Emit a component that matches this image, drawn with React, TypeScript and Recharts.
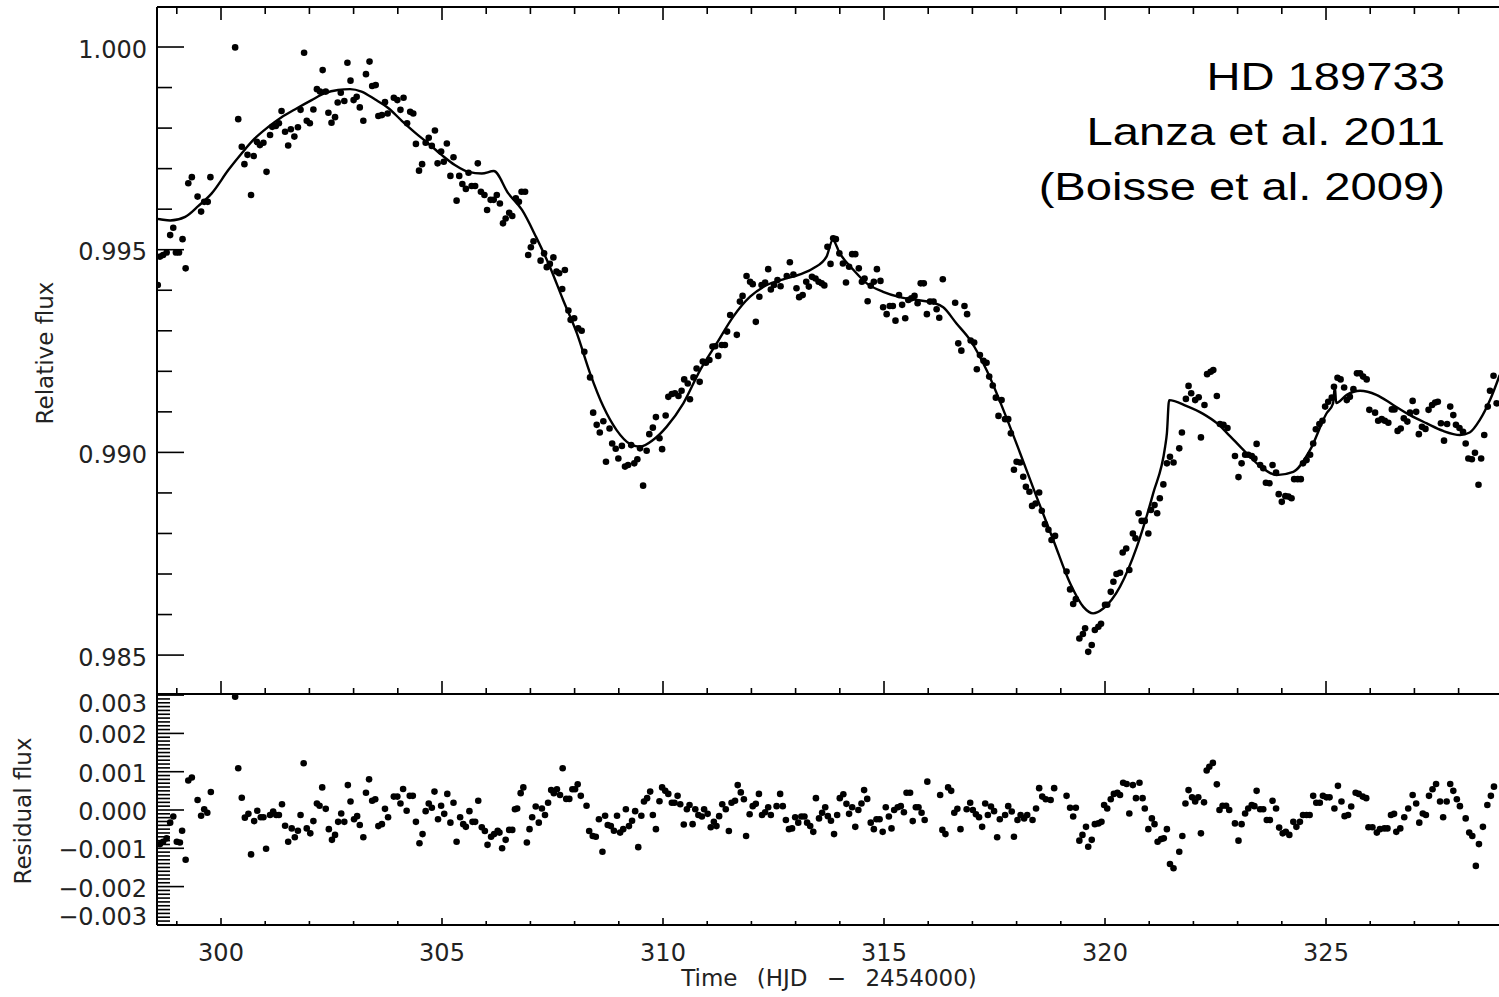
import React from "react";
import { ComposedChart, Scatter, Line, XAxis, YAxis } from "recharts";

// observed relative flux (MOST photometry), time in HJD - 2454000
const obsTime = [
  298.57, 298.62, 298.69, 298.77, 298.85, 298.92, 298.98, 299.05, 299.13, 299.20,
  299.26, 299.34, 299.47, 299.55, 299.62, 299.70, 299.76, 300.32, 300.39, 300.47,
  300.53, 300.60, 300.68, 300.74, 300.81, 300.88, 300.96, 301.03, 301.11, 301.16,
  301.24, 301.31, 301.37, 301.45, 301.52, 301.58, 301.66, 301.74, 301.80, 301.88,
  301.94, 302.01, 302.09, 302.17, 302.24, 302.30, 302.37, 302.43, 302.50, 302.58,
  302.64, 302.71, 302.79, 302.86, 302.93, 303.00, 303.07, 303.14, 303.22, 303.28,
  303.36, 303.42, 303.50, 303.56, 303.64, 303.71, 303.77, 303.91, 303.99, 304.06,
  304.13, 304.21, 304.28, 304.35, 304.41, 304.48, 304.55, 304.63, 304.70, 304.77,
  304.84, 304.90, 304.98, 305.04, 305.11, 305.19, 305.26, 305.33, 305.39, 305.46,
  305.54, 305.60, 305.67, 305.75, 305.81, 305.88, 305.96, 306.02, 306.10, 306.17,
  306.24, 306.31, 306.38, 306.44, 306.52, 306.59, 306.67, 306.74, 306.80, 306.88,
  306.95, 307.01, 307.07, 307.23, 307.31, 307.37, 307.44, 307.52, 307.59, 307.65,
  307.72, 307.78, 307.86, 307.91, 307.99, 308.08, 308.16, 308.22, 308.35, 308.42,
  308.50, 308.57, 308.65, 308.71, 308.79, 308.85, 308.93, 308.99, 309.07, 309.14,
  309.21, 309.28, 309.35, 309.42, 309.48, 309.55, 309.63, 309.69, 309.77, 309.84,
  309.92, 309.98, 310.06, 310.12, 310.20, 310.27, 310.35, 310.42, 310.48, 310.56,
  310.61, 310.69, 310.76, 310.83, 310.90, 310.97, 311.05, 311.12, 311.18, 311.25,
  311.33, 311.40, 311.45, 311.52, 311.67, 311.74, 311.80, 311.89, 311.97, 312.03,
  312.10, 312.18, 312.23, 312.31, 312.38, 312.44, 312.51, 312.59, 312.66, 312.80,
  312.87, 312.95, 313.02, 313.08, 313.16, 313.24, 313.30, 313.37, 313.45, 313.52,
  313.59, 313.65, 313.72, 313.79, 313.85, 313.91, 313.99, 314.07, 314.14, 314.21,
  314.28, 314.35, 314.43, 314.50, 314.56, 314.63, 314.70, 314.77, 314.84, 314.92,
  314.98, 315.06, 315.13, 315.20, 315.26, 315.34, 315.41, 315.48, 315.55, 315.62,
  315.69, 315.76, 315.83, 315.90, 315.97, 316.04, 316.12, 316.19, 316.25, 316.33,
  316.61, 316.68, 316.75, 316.82, 316.88, 316.96, 317.04, 317.10, 317.17, 317.25,
  317.32, 317.38, 317.46, 317.53, 317.59, 317.66, 317.74, 317.81, 317.87, 317.94,
  318.00, 318.08, 318.15, 318.21, 318.29, 318.35, 318.43, 318.51, 318.57, 318.64,
  318.72, 318.79, 318.87, 319.13, 319.21, 319.28, 319.34, 319.42, 319.50, 319.55,
  319.62, 319.70, 319.77, 319.85, 319.91, 320.00, 320.05, 320.13, 320.19, 320.26,
  320.34, 320.40, 320.48, 320.55, 320.63, 320.69, 320.76, 320.83, 320.90, 320.98,
  321.04, 321.12, 321.18, 321.24, 321.32, 321.40, 321.47, 321.55, 321.68, 321.74,
  321.83, 321.89, 321.95, 322.04, 322.12, 322.17, 322.25, 322.31, 322.39, 322.45,
  322.53, 322.60, 322.68, 322.77, 322.94, 323.02, 323.09, 323.17, 323.24, 323.32,
  323.38, 323.43, 323.51, 323.58, 323.64, 323.72, 323.79, 323.87, 323.93, 324.00,
  324.08, 324.15, 324.22, 324.28, 324.36, 324.43, 324.48, 324.56, 324.64, 324.71,
  324.77, 324.85, 324.92, 324.98, 325.05, 325.13, 325.18, 325.26, 325.33, 325.41,
  325.47, 325.54, 325.62, 325.70, 325.77, 325.84, 325.92, 325.98, 326.11, 326.18,
  326.26, 326.33, 326.41, 326.49, 326.55, 326.62, 326.69, 326.76, 326.84, 326.90,
  326.96, 327.04, 327.10, 327.17, 327.25, 327.32, 327.40, 327.47, 327.53, 327.60,
  327.67, 327.74, 327.81, 327.88, 327.94, 328.02, 328.10, 328.16, 328.22, 328.30,
  328.37, 328.45, 328.51, 328.58, 328.66, 328.71, 328.79, 328.86,
];

const obsFlux = [
  0.99413, 0.99483, 0.99487, 0.99493, 0.99536, 0.99554, 0.99493, 0.99493, 0.99526, 0.99454,
  0.99664, 0.99679, 0.99631, 0.99594, 0.99618, 0.99618, 0.99679, 0.99999, 0.99822, 0.99754,
  0.99711, 0.99734, 0.99635, 0.99731, 0.99766, 0.99758, 0.99764, 0.99692, 0.99783, 0.99803,
  0.99805, 0.99812, 0.99842, 0.99791, 0.99757, 0.99797, 0.99779, 0.99802, 0.99845, 0.99986,
  0.99818, 0.99812, 0.99846, 0.99896, 0.99890, 0.99943, 0.99890, 0.99838, 0.99813, 0.99827,
  0.99863, 0.99887, 0.99867, 0.99961, 0.99917, 0.99869, 0.99877, 0.99851, 0.99818, 0.99933,
  0.99964, 0.99904, 0.99906, 0.99830, 0.99832, 0.99864, 0.99836, 0.99875, 0.99869, 0.99845,
  0.99875, 0.99812, 0.99840, 0.99836, 0.99761, 0.99695, 0.99711, 0.99764, 0.99776, 0.99756,
  0.99794, 0.99713, 0.99742, 0.99717, 0.99762, 0.99682, 0.99728, 0.99621, 0.99682, 0.99662,
  0.99650, 0.99690, 0.99657, 0.99657, 0.99713, 0.99643, 0.99635, 0.99598, 0.99623, 0.99623,
  0.99635, 0.99614, 0.99565, 0.99577, 0.99591, 0.99583, 0.99627, 0.99618, 0.99643, 0.99643,
  0.99487, 0.99506, 0.99521, 0.99473, 0.99491, 0.99457, 0.99465, 0.99481, 0.99446, 0.99442,
  0.99403, 0.99450, 0.99350, 0.99327, 0.99331, 0.99306, 0.99300, 0.99248, 0.99185, 0.99098,
  0.99068, 0.99049, 0.99077, 0.98977, 0.99059, 0.99022, 0.99009, 0.98985, 0.99016, 0.98965,
  0.98969, 0.99018, 0.98973, 0.98983, 0.99010, 0.98918, 0.99004, 0.99045, 0.99061, 0.99087,
  0.99035, 0.99008, 0.99091, 0.99137, 0.99144, 0.99146, 0.99139, 0.99152, 0.99180, 0.99170,
  0.99131, 0.99185, 0.99207, 0.99174, 0.99224, 0.99221, 0.99228, 0.99261, 0.99262, 0.99238,
  0.99265, 0.99265, 0.99298, 0.99339, 0.99290, 0.99372, 0.99386, 0.99435, 0.99421, 0.99415,
  0.99322, 0.99384, 0.99413, 0.99419, 0.99452, 0.99402, 0.99413, 0.99425, 0.99410, 0.99435,
  0.99469, 0.99439, 0.99405, 0.99383, 0.99388, 0.99421, 0.99409, 0.99433, 0.99429, 0.99421,
  0.99417, 0.99412, 0.99507, 0.99465, 0.99528, 0.99526, 0.99491, 0.99466, 0.99419, 0.99458,
  0.99489, 0.99489, 0.99454, 0.99421, 0.99429, 0.99373, 0.99411, 0.99421, 0.99452, 0.99423,
  0.99358, 0.99341, 0.99361, 0.99361, 0.99325, 0.99388, 0.99364, 0.99331, 0.99376, 0.99380,
  0.99386, 0.99368, 0.99417, 0.99417, 0.99341, 0.99372, 0.99372, 0.99353, 0.99332, 0.99427,
  0.99369, 0.99269, 0.99251, 0.99361, 0.99341, 0.99276, 0.99271, 0.99205, 0.99240, 0.99226,
  0.99221, 0.99187, 0.99165, 0.99135, 0.99090, 0.99129, 0.99082, 0.99082, 0.99047, 0.98957,
  0.98977, 0.98975, 0.98940, 0.98915, 0.98903, 0.98868, 0.98874, 0.98901, 0.98856, 0.98823,
  0.98809, 0.98784, 0.98794, 0.98706, 0.98662, 0.98626, 0.98638, 0.98541, 0.98552, 0.98566,
  0.98508, 0.98525, 0.98562, 0.98570, 0.98577, 0.98624, 0.98624, 0.98656, 0.98681, 0.98700,
  0.98703, 0.98753, 0.98763, 0.98710, 0.98800, 0.98788, 0.98850, 0.98831, 0.98831, 0.98800,
  0.98858, 0.98870, 0.98850, 0.98887, 0.98921, 0.98973, 0.98989, 0.98975, 0.99010, 0.99049,
  0.99132, 0.99164, 0.99146, 0.99129, 0.99136, 0.99037, 0.99117, 0.99193, 0.99199, 0.99203,
  0.99139, 0.99070, 0.99068, 0.99060, 0.98991, 0.98939, 0.98973, 0.98994, 0.98994, 0.98991,
  0.98985, 0.99021, 0.98969, 0.98961, 0.98925, 0.98924, 0.98969, 0.98950, 0.98897, 0.98878,
  0.98892, 0.98891, 0.98887, 0.98934, 0.98934, 0.98934, 0.98973, 0.98981, 0.98994, 0.99022,
  0.99057, 0.99070, 0.99078, 0.99113, 0.99125, 0.99135, 0.99162, 0.99184, 0.99180, 0.99160,
  0.99129, 0.99137, 0.99156, 0.99195, 0.99195, 0.99187, 0.99180, 0.99105, 0.99098, 0.99078,
  0.99082, 0.99078, 0.99073, 0.99106, 0.99106, 0.99053, 0.99059, 0.99084, 0.99076, 0.99098,
  0.99127, 0.99100, 0.99045, 0.99063, 0.99058, 0.99105, 0.99117, 0.99123, 0.99125, 0.99072,
  0.99029, 0.99070, 0.99113, 0.99092, 0.99068, 0.99060, 0.99051, 0.99022, 0.98985, 0.98983,
  0.98999, 0.98920, 0.98985, 0.99043, 0.99113, 0.99152, 0.99189, 0.99121,
];

// spot model (time, flux)
const modelCurve: [number, number][] = [
  [298.55, 0.99576], [298.62, 0.99575], [298.85, 0.99572], [299.19, 0.99581], [299.49, 0.99608],
  [299.79, 0.99639], [300.17, 0.99697], [300.47, 0.99738], [300.77, 0.99775], [301.07, 0.99803],
  [301.37, 0.99827], [301.67, 0.99846], [302.05, 0.99869], [302.35, 0.99886], [302.65, 0.99894],
  [302.92, 0.99896], [303.18, 0.9989], [303.48, 0.99871], [303.79, 0.99849], [304.09, 0.99818],
  [304.39, 0.99789], [304.69, 0.99762], [304.99, 0.99734], [305.29, 0.99709], [305.6, 0.99692],
  [305.9, 0.99688], [306.17, 0.99694], [306.5, 0.99639], [306.81, 0.99598], [307.13, 0.99531],
  [307.44, 0.99458], [307.74, 0.99376], [308.05, 0.99294], [308.35, 0.99195], [308.65, 0.99113],
  [308.95, 0.99055], [309.25, 0.99021], [309.48, 0.99014], [309.78, 0.99031], [310.08, 0.99063],
  [310.46, 0.99121], [310.84, 0.99203], [311.22, 0.9927], [311.59, 0.99335], [311.97, 0.99384],
  [312.35, 0.99413], [312.72, 0.99427], [313.1, 0.99439], [313.4, 0.99454], [313.7, 0.99483],
  [313.84, 0.99524], [314.0, 0.99491], [314.31, 0.9945], [314.61, 0.99417], [314.98, 0.99396],
  [315.36, 0.99383], [315.74, 0.99376], [316.12, 0.99369], [316.34, 0.99358], [316.64, 0.99318],
  [316.95, 0.99277], [317.32, 0.99203], [317.7, 0.99105], [318.08, 0.98998], [318.45, 0.98891],
  [318.83, 0.98784], [319.21, 0.98677], [319.51, 0.98619], [319.73, 0.98603], [319.96, 0.98615],
  [320.34, 0.98669], [320.72, 0.98767], [321.09, 0.98899], [321.36, 0.99014], [321.4, 0.99047],
  [321.45, 0.99129], [321.85, 0.99114], [322.22, 0.99095], [322.53, 0.99072], [322.75, 0.99049],
  [323.13, 0.99006], [323.51, 0.98966], [323.88, 0.98944], [324.26, 0.98952], [324.64, 0.99006],
  [325.01, 0.99096], [325.16, 0.99121], [325.2, 0.99162], [325.23, 0.99122], [325.47, 0.99142],
  [325.77, 0.99152], [326.14, 0.99142], [326.52, 0.99117], [326.9, 0.99092], [327.27, 0.99072],
  [327.65, 0.99053], [328.03, 0.99043], [328.25, 0.99049], [328.48, 0.9908], [328.71, 0.99129],
  [328.93, 0.99191],
];

// residual flux (time, observed - model)
const residuals: [number, number][] = [
  [298.62, -0.00089], [298.69, -0.00083], [298.77, -0.00074], [298.85, -0.00033], [298.92, -0.00017],
  [299.0, -0.00083], [299.07, -0.00085], [299.12, -0.00054], [299.2, -0.0013], [299.26, 0.00077],
  [299.34, 0.00085], [299.47, 0.00026], [299.55, -0.00015], [299.62, 0.00002], [299.69, -0.00007],
  [299.77, 0.00047], [300.32, 0.00296], [300.39, 0.00109], [300.47, 0.00032], [300.54, -0.0002],
  [300.62, -0.0001], [300.68, -0.00116], [300.75, -0.00029], [300.82, -0.00002], [300.9, -0.00019],
  [300.96, -0.00019], [301.02, -0.00101], [301.11, -0.00013], [301.18, -0.00004], [301.25, -0.00013],
  [301.31, -0.00013], [301.38, 0.00015], [301.45, -0.00041], [301.52, -0.00083], [301.6, -0.00048],
  [301.67, -0.00071], [301.74, -0.00054], [301.8, -0.00013], [301.87, 0.00122], [301.94, -0.00048],
  [302.02, -0.00061], [302.09, -0.00029], [302.17, 0.00017], [302.23, 0.00011], [302.29, 0.00059],
  [302.37, 0.00003], [302.44, -0.0005], [302.51, -0.00078], [302.58, -0.00065], [302.65, -0.00031],
  [302.72, -0.00009], [302.79, -0.00031], [302.87, 0.00065], [302.93, 0.00022], [303.01, -0.00024],
  [303.08, -0.00016], [303.14, -0.00039], [303.22, -0.00071], [303.28, 0.00045], [303.35, 0.0008],
  [303.42, 0.00024], [303.49, 0.00028], [303.56, -0.00042], [303.64, -0.00037], [303.71, 0.00003],
  [303.78, -0.00019], [303.91, 0.00035], [303.99, 0.00035], [304.06, 0.00017], [304.12, 0.00055],
  [304.2, -0.00002], [304.27, 0.00037], [304.34, 0.00037], [304.41, -0.00031], [304.49, -0.00087],
  [304.56, -0.00063], [304.63, -0.00003], [304.7, 0.00017], [304.77, 0.00006], [304.83, 0.00048],
  [304.91, -0.00024], [304.98, 0.00011], [305.05, -0.0001], [305.12, 0.00042], [305.19, -0.00033],
  [305.26, 0.00019], [305.33, -0.00083], [305.41, -0.00019], [305.48, -0.00037], [305.54, -0.00044],
  [305.62, -0.00003], [305.69, -0.00031], [305.75, -0.00031], [305.82, 0.00024], [305.9, -0.00045],
  [305.97, -0.00055], [306.03, -0.00091], [306.11, -0.0007], [306.18, -0.00063], [306.26, -0.00054],
  [306.3, -0.00059], [306.36, -0.001], [306.44, -0.00078], [306.52, -0.00052], [306.59, -0.00052],
  [306.65, 0.00002], [306.7, 0.00004], [306.78, 0.00044], [306.84, 0.00059], [306.92, -0.00085],
  [306.98, -0.0005], [307.04, -0.00019], [307.12, 0.00009], [307.19, -0.00033], [307.26, 0.00004],
  [307.33, -0.00013], [307.4, 0.00019], [307.47, 0.00052], [307.53, 0.00044], [307.6, 0.00054],
  [307.67, 0.00039], [307.73, 0.00109], [307.81, 0.00029], [307.88, 0.00029], [307.95, 0.00054],
  [308.01, 0.00054], [308.07, 0.00067], [308.14, 0.00037], [308.27, 0.00011], [308.33, -0.00055],
  [308.41, -0.00068], [308.48, -0.0007], [308.55, -0.00024], [308.63, -0.00109], [308.69, -0.00015],
  [308.75, -0.00039], [308.82, -0.00042], [308.89, -0.00054], [308.96, -0.00015], [309.03, -0.00059],
  [309.1, -0.0005], [309.16, 0.00002], [309.23, -0.00042], [309.3, -0.00028], [309.37, -0.00003],
  [309.44, -0.00097], [309.51, -0.00015], [309.57, 0.00022], [309.64, 0.00031], [309.71, 0.00048],
  [309.77, -0.00013], [309.84, -0.0005], [309.92, 0.00023], [309.98, 0.00059], [310.05, 0.0005],
  [310.12, 0.00042], [310.2, 0.00019], [310.26, 0.00019], [310.33, 0.00037], [310.39, 0.00015],
  [310.47, -0.00038], [310.54, 0.00002], [310.6, 0.00013], [310.67, -0.00037], [310.73, 0.00002],
  [310.8, -0.00013], [310.88, -0.00017], [310.93, 0.00002], [311.01, -0.0001], [311.08, -0.00045],
  [311.15, -0.00031], [311.21, -0.00042], [311.27, -0.00016], [311.34, 0.00015], [311.42, 0.00002],
  [311.49, -0.00055], [311.55, 0.00019], [311.63, 0.00024], [311.69, 0.00065], [311.76, 0.00046],
  [311.83, 0.00028], [311.88, -0.00068], [311.96, -0.00011], [312.03, 0.0001], [312.1, 0.00016],
  [312.17, 0.00042], [312.24, -0.00013], [312.31, -0.00006], [312.38, 0.00007], [312.44, -0.00013],
  [312.57, 0.0001], [312.65, 0.00042], [312.71, 0.0001], [312.78, -0.00026], [312.85, -0.0005],
  [312.92, -0.00048], [312.99, -0.00019], [313.06, -0.00033], [313.13, -0.00017], [313.2, -0.00017],
  [313.26, -0.00033], [313.33, -0.00042], [313.4, -0.00057], [313.46, 0.00031], [313.53, -0.00022],
  [313.6, -0.00007], [313.67, 0.00007], [313.73, -0.00016], [313.8, -0.00028], [313.87, -0.00063],
  [313.94, -0.00013], [314.0, 0.00031], [314.08, 0.00041], [314.15, 0.00016], [314.21, -0.0001],
  [314.28, 0.00007], [314.35, -0.00044], [314.42, 0.0], [314.49, 0.00017], [314.55, 0.00052],
  [314.62, 0.00029], [314.7, -0.00033], [314.77, -0.0005], [314.83, -0.00024], [314.9, -0.00024],
  [314.97, -0.00057], [315.04, 0.00007], [315.11, -0.00017], [315.17, -0.00048], [315.23, 0.0],
  [315.31, 0.00007], [315.38, 0.0001], [315.45, -0.00006], [315.51, 0.00045], [315.59, 0.00045],
  [315.65, -0.00029], [315.72, 0.00007], [315.78, 0.00007], [315.85, -0.00007], [315.92, -0.00026],
  [315.98, 0.00074], [316.27, 0.00039], [316.32, -0.00052], [316.39, -0.00063], [316.45, 0.00059],
  [316.52, 0.0005], [316.59, -0.00007], [316.66, 0.00003], [316.73, -0.0005], [316.87, 0.00002],
  [316.95, 0.00019], [317.01, 0.0], [317.08, -0.00011], [317.15, -0.00019], [317.22, -0.00044],
  [317.29, 0.00017], [317.35, -0.00013], [317.42, 0.00009], [317.49, -0.00003], [317.56, -0.00071],
  [317.62, -0.00024], [317.74, -0.00013], [317.81, 0.0001], [317.89, -0.00004], [317.94, -0.0007],
  [318.02, -0.00026], [318.09, -0.00013], [318.17, -0.00022], [318.24, -0.00013], [318.36, -0.00026],
  [318.44, 0.00004], [318.51, 0.00057], [318.58, 0.00035], [318.66, 0.00028], [318.77, 0.00026],
  [318.85, 0.00057], [319.13, 0.00037], [319.21, 0.00006], [319.28, -0.00017], [319.34, 0.00006],
  [319.42, -0.0008], [319.49, -0.00065], [319.57, -0.00044], [319.62, -0.00096], [319.7, -0.00078],
  [319.77, -0.00037], [319.85, -0.00035], [319.92, -0.00031], [319.98, 0.00013], [320.05, 0.00004],
  [320.13, 0.00028], [320.2, 0.00042], [320.28, 0.00045], [320.34, 0.00039], [320.41, 0.00071],
  [320.49, 0.00068], [320.55, -0.00009], [320.63, 0.00065], [320.7, 0.00031], [320.78, 0.00071],
  [320.85, 0.00031], [320.9, 0.00004], [320.98, -0.0005], [321.06, -0.00022], [321.12, -0.00037],
  [321.19, -0.00083], [321.27, -0.00076], [321.33, -0.00074], [321.4, -0.0005], [321.47, -0.00141],
  [321.55, -0.00152], [321.68, -0.00109], [321.75, -0.00068], [321.82, 0.00017], [321.89, 0.00052],
  [321.97, 0.00033], [322.04, 0.00022], [322.11, 0.00033], [322.17, -0.00061], [322.24, 0.0002],
  [322.3, 0.00103], [322.36, 0.00113], [322.44, 0.00123], [322.53, 0.00067], [322.59, 0.0],
  [322.66, 0.00011], [322.74, 0.00011], [322.81, 0.0], [322.94, -0.00035], [323.02, -0.0008],
  [323.09, -0.00037], [323.17, -0.00009], [323.24, 0.00004], [323.32, 0.00013], [323.38, 0.0001],
  [323.43, 0.0005], [323.51, 0.00002], [323.58, 0.00002], [323.66, -0.00026], [323.73, -0.00026],
  [323.79, 0.00024], [323.87, 0.00004], [323.94, -0.00046], [324.02, -0.00061], [324.09, -0.00057],
  [324.17, -0.00065], [324.26, -0.00031], [324.33, -0.00044], [324.41, -0.00031], [324.48, -0.00013],
  [324.56, -0.00013], [324.63, -0.00013], [324.71, 0.00037], [324.78, 0.00019], [324.86, 0.00019],
  [324.93, 0.00037], [325.01, 0.00033], [325.08, 0.00033], [325.19, 0.00004], [325.27, 0.00063],
  [325.35, 0.00022], [325.42, -0.00016], [325.5, -0.00013], [325.57, 0.00009], [325.67, 0.00045],
  [325.74, 0.00042], [325.83, 0.00035], [325.91, 0.00031], [325.96, -0.00045], [326.05, -0.00045],
  [326.15, -0.00059], [326.22, -0.0005], [326.32, -0.00048], [326.39, -0.00048], [326.47, -0.00013],
  [326.54, -0.0001], [326.59, -0.00057], [326.68, -0.00048], [326.77, -0.00019], [326.86, 0.00004],
  [326.96, 0.00039], [327.04, 0.00017], [327.11, -0.00033], [327.19, -0.00009], [327.26, -0.00013],
  [327.33, 0.00037], [327.41, 0.00054], [327.49, 0.00068], [327.58, 0.00022], [327.65, -0.00019],
  [327.73, 0.00022], [327.81, 0.00068], [327.88, 0.0005], [327.96, 0.00028], [328.03, 0.0001],
  [328.16, -0.00022], [328.24, -0.00059], [328.31, -0.00068], [328.39, -0.00146], [328.46, -0.00089],
  [328.55, -0.00044], [328.65, 0.00013], [328.73, 0.00037], [328.8, 0.00061],
];

// axis ticks
const timeTicks = [
  299, 300, 301, 302, 303, 304, 305, 306, 307, 308, 309, 310, 311, 312, 313,
  314, 315, 316, 317, 318, 319, 320, 321, 322, 323, 324, 325, 326, 327, 328,
];
const fluxTicks = [
  0.985, 0.986, 0.987, 0.988, 0.989, 0.99, 0.991, 0.992,
  0.993, 0.994, 0.995, 0.996, 0.997, 0.998, 0.999, 1.0,
];
// dense minor ticks every 0.0001, labelled every 0.001
const residTicks = Array.from({ length: 61 }, (_, i) => (i - 30) / 10000);

const W = 1502;
const H = 997;
const LEFT = 157;
const TOP_PANEL = [7, 694];
const BOTTOM_PANEL = [694, 925];
const TIME_DOMAIN: [number, number] = [298.552, 328.959];
const FLUX_DOMAIN: [number, number] = [0.98404, 1.000987];
const RESID_DOMAIN: [number, number] = [-0.003003, 0.003029];

const tickFont = { fontFamily: "DejaVu Sans", fontSize: 24, fill: "#222" };

const obsData = obsTime.map((t, i) => ({ t, f: obsFlux[i] }));
const modelData = modelCurve.map(([t, f]) => ({ t, f }));
const residData = residuals.map(([t, r]) => ({ t, r }));

type Dir = "up" | "down" | "left" | "right";

const isMultiple = (v: number, step: number) =>
  Math.abs(v / step - Math.round(v / step)) < 1e-6;

function makeTick(
  dir: Dir,
  majorStep: number,
  majorLen: number,
  minorLen: number,
  label?: (v: number, x: number, y: number) => React.ReactNode
) {
  return (p: any) => {
    const { x, y, payload } = p;
    const v = payload.value as number;
    const major = isMultiple(v, majorStep);
    const len = major ? majorLen : minorLen;
    const dx = dir === "left" ? -len : dir === "right" ? len : 0;
    const dy = dir === "up" ? -len : dir === "down" ? len : 0;
    return (
      <g>
        <line x1={x} y1={y} x2={x + dx} y2={y + dy} stroke="#000" strokeWidth={1.6} />
        {major && label ? label(v, x, y) : null}
      </g>
    );
  };
}

const fluxLabel = (v: number, x: number, y: number) => (
  <text x={x - 10} y={y + 10.5} textAnchor="end" style={tickFont}>
    {v.toFixed(3)}
  </text>
);

const residLabel = (v: number, x: number, y: number) => {
  const s = Math.abs(v) < 1e-9 ? "0.000" : v < 0 ? "\u2212" + Math.abs(v).toFixed(3) : v.toFixed(3);
  const by = Math.min(Math.max(y + 10, BOTTOM_PANEL[0] + 18), BOTTOM_PANEL[1]);
  return (
    <text x={x - 10} y={by} textAnchor="end" style={tickFont}>
      {s}
    </text>
  );
};

const timeLabel = (v: number, x: number, y: number) => (
  <text x={x} y={y + 36} textAnchor="middle" style={tickFont}>
    {v}
  </text>
);

const axisCommon = {
  type: "number" as const,
  tickSize: 0,
  tickMargin: 0,
  tickLine: false,
  interval: 0 as const,
  allowDataOverflow: true,
  axisLine: { stroke: "#000", strokeWidth: 2 },
};

const Dot = (p: any) => <circle cx={p.cx} cy={p.cy} r={3.3} fill="#000" />;

// x axes get a 1px band so recharts draws them; margins compensate
function FluxPanel() {
  return (
    <ComposedChart
      width={W}
      height={H}
      margin={{ top: TOP_PANEL[0] - 1, right: 1, bottom: H - TOP_PANEL[1] - 1, left: 0 }}
    >
      <XAxis {...axisCommon} xAxisId="b" dataKey="t" orientation="bottom" height={1}
        domain={TIME_DOMAIN} ticks={timeTicks} tick={makeTick("up", 5, 13, 6)} />
      <XAxis {...axisCommon} xAxisId="t" dataKey="t" orientation="top" height={1}
        domain={TIME_DOMAIN} ticks={timeTicks} tick={makeTick("down", 5, 13, 7)} />
      <YAxis {...axisCommon} yAxisId="l" dataKey="f" orientation="left" width={LEFT}
        domain={FLUX_DOMAIN} ticks={fluxTicks} tick={makeTick("right", 0.005, 27, 15, fluxLabel)} />
      <YAxis {...axisCommon} yAxisId="r" orientation="right" width={0}
        domain={FLUX_DOMAIN} ticks={fluxTicks} tick={makeTick("left", 0.005, 27, 15)} />
      <Line xAxisId="b" yAxisId="l" data={modelData} dataKey="f" type="monotone"
        stroke="#000" strokeWidth={2.4} dot={false} isAnimationActive={false} />
      <Scatter xAxisId="b" yAxisId="l" data={obsData} dataKey="f" fill="#000"
        shape={Dot} isAnimationActive={false} />
      <Scatter xAxisId="t" yAxisId="r" data={[]} dataKey="f" isAnimationActive={false} />
    </ComposedChart>
  );
}

function ResidualPanel() {
  return (
    <ComposedChart
      width={W}
      height={H}
      margin={{ top: BOTTOM_PANEL[0], right: 1, bottom: H - BOTTOM_PANEL[1] - 1, left: 0 }}
    >
      <XAxis {...axisCommon} xAxisId="b" dataKey="t" orientation="bottom" height={1}
        domain={TIME_DOMAIN} ticks={timeTicks} tick={makeTick("up", 5, 7, 4, timeLabel)} />
      <YAxis {...axisCommon} yAxisId="l" dataKey="r" orientation="left" width={LEFT}
        domain={RESID_DOMAIN} ticks={residTicks} tick={makeTick("right", 0.001, 27, 13, residLabel)} />
      <YAxis {...axisCommon} yAxisId="r" orientation="right" width={0}
        domain={RESID_DOMAIN} ticks={residTicks} tick={makeTick("left", 0.001, 27, 13)} />
      <Scatter xAxisId="b" yAxisId="l" data={residData} dataKey="r" fill="#000"
        shape={Dot} isAnimationActive={false} />
    </ComposedChart>
  );
}

export default function App() {
  const labelFont = { fontFamily: "DejaVu Sans", fontSize: 23, fill: "#222" };
  const noteFont = { fontFamily: "Liberation Sans", fontSize: 39, fill: "#000" };
  return (
    <div style={{ position: "absolute", left: 0, top: 0, width: 1499, height: H, overflow: "hidden", background: "#fff" }}>
      <div style={{ position: "absolute", left: 0, top: 0 }}>
        <FluxPanel />
      </div>
      <div style={{ position: "absolute", left: 0, top: 0 }}>
        <ResidualPanel />
      </div>
      <svg width={1499} height={H} style={{ position: "absolute", left: 0, top: 0, pointerEvents: "none" }}>
        <text transform="translate(45,353) rotate(-90)" textAnchor="middle" dominantBaseline="central" style={labelFont}>
          Relative flux
        </text>
        <text transform="translate(23,811) rotate(-90)" textAnchor="middle" dominantBaseline="central" style={labelFont}>
          Residual flux
        </text>
        <text x={829} y={986} textAnchor="middle" style={{ ...labelFont, wordSpacing: 12 }}>
          Time (HJD {"\u2212"} 2454000)
        </text>
        <text transform="translate(1445,90) scale(1.21,1)" textAnchor="end" style={noteFont}>HD 189733</text>
        <text transform="translate(1445,145) scale(1.21,1)" textAnchor="end" style={noteFont}>Lanza et al. 2011</text>
        <text transform="translate(1445,200) scale(1.21,1)" textAnchor="end" style={noteFont}>(Boisse et al. 2009)</text>
      </svg>
    </div>
  );
}
